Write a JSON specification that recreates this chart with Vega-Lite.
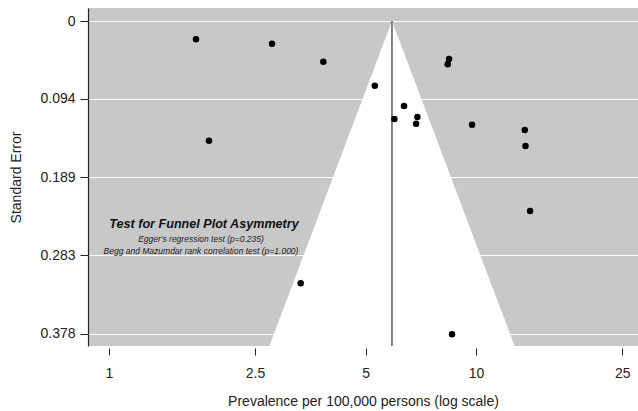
{
  "$schema": "https://vega.github.io/schema/vega-lite/v6.json",
  "autosize": {"type": "none"},
  "width": 550,
  "height": 338,
  "padding": {"left": 88, "top": 8, "right": 0, "bottom": 65},
  "background": "white",
  "view": {"fill": "#c8c8c8", "stroke": null},
  "config": {
    "font": "Liberation Sans",
    "axis": {"labelFont": "Liberation Sans", "titleFont": "Liberation Sans", "labelColor": "#222", "titleColor": "#222", "labelFontSize": 14, "titleFontSize": 14, "titleFontWeight": "normal", "tickColor": "#222", "domainColor": "#222"}
  },
  "datasets": {
    "studies": [
      {"prev": 1.726, "se": 0.0221},
      {"prev": 2.781, "se": 0.0274},
      {"prev": 3.836, "se": 0.0491},
      {"prev": 5.297, "se": 0.0781},
      {"prev": 1.873, "se": 0.1445},
      {"prev": 5.99, "se": 0.1184},
      {"prev": 8.44, "se": 0.0459},
      {"prev": 8.37, "se": 0.0523},
      {"prev": 6.365, "se": 0.1027},
      {"prev": 6.92, "se": 0.1159},
      {"prev": 6.865, "se": 0.124},
      {"prev": 9.75, "se": 0.1252},
      {"prev": 13.57, "se": 0.1316},
      {"prev": 13.63, "se": 0.151},
      {"prev": 14.03, "se": 0.2295},
      {"prev": 3.329, "se": 0.3168},
      {"prev": 8.6, "se": 0.3784}
    ],
    "funnel": [
      {"se": 0, "lo": 5.9, "hi": 5.9},
      {"se": 0.3925, "lo": 2.735, "hi": 12.73}
    ],
    "pooled": [
      {"prev": 5.9, "se": 0, "se2": 0.3925}
    ],
    "heading": [
      {"prev": 1.815, "se": 0.2455, "label": "Test for Funnel Plot Asymmetry"}
    ],
    "tests": [
      {"prev": 1.781, "se": 0.2633, "label": "Egger's regression test (p=0.235)"},
      {"prev": 1.781, "se": 0.2775, "label": "Begg and Mazumdar rank correlation test (p=1.000)"}
    ]
  },
  "encoding": {
    "x": {
      "field": "prev", "type": "quantitative",
      "scale": {"type": "log", "domain": [0.877, 27.6], "nice": false, "zero": false},
      "axis": {
        "title": "Prevalence per 100,000 persons (log scale)",
        "values": [1, 2.5, 5, 10, 25],
        "format": ".2~f",
        "grid": false,
        "domain": false,
        "offset": 2,
        "tickSize": 7,
        "labelPadding": 22,
        "labelBaseline": "alphabetic",
        "titleY": 57.5,
        "titleBaseline": "alphabetic",
        "labelFlush": false
      }
    },
    "y": {
      "field": "se", "type": "quantitative",
      "scale": {"domain": [-0.0157, 0.3925], "reverse": true, "nice": false, "zero": false},
      "axis": {
        "title": "Standard Error",
        "values": [0, 0.094, 0.189, 0.283, 0.378],
        "format": ".3~f",
        "grid": true,
        "gridColor": "white",
        "gridOpacity": 1,
        "gridWidth": 1.2,
        "tickSize": 8,
        "labelPadding": 5,
        "domain": true,
        "domainWidth": 1.2,
        "titleX": -72,
        "titleY": 169,
        "titleAngle": -90,
        "titleAlign": "center",
        "titleBaseline": "middle",
        "labelFlush": false
      }
    }
  },
  "layer": [
    {
      "data": {"name": "funnel"},
      "mark": {"type": "area", "orient": "horizontal", "color": "white", "opacity": 1},
      "encoding": {
        "x": {"field": "lo", "type": "quantitative"},
        "x2": {"field": "hi"},
        "y": {"field": "se", "type": "quantitative"}
      }
    },
    {
      "data": {"name": "pooled"},
      "mark": {"type": "rule", "color": "#666", "strokeWidth": 1.6},
      "encoding": {
        "y2": {"field": "se2"}
      }
    },
    {
      "data": {"name": "studies"},
      "mark": {"type": "circle", "color": "black", "opacity": 1, "size": 42}
    },
    {
      "data": {"name": "heading"},
      "mark": {"type": "text", "font": "Liberation Sans", "fontSize": 12.6, "fontWeight": "bold", "fontStyle": "italic", "color": "#111", "align": "center", "baseline": "middle"},
      "encoding": {"text": {"field": "label"}}
    },
    {
      "data": {"name": "tests"},
      "mark": {"type": "text", "font": "Liberation Sans", "fontSize": 8.5, "fontStyle": "italic", "color": "#222", "align": "center", "baseline": "middle"},
      "encoding": {"text": {"field": "label"}}
    }
  ]
}
